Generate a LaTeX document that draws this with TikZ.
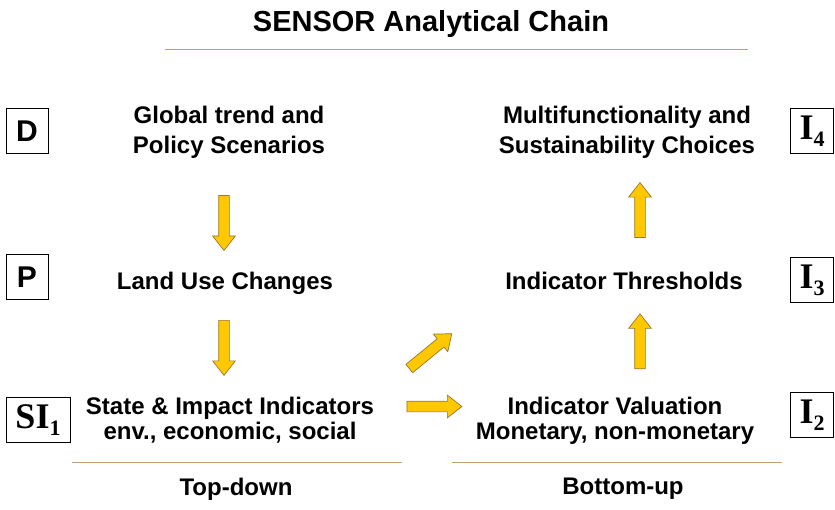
\documentclass[tikz,border=0pt]{standalone}
\usepackage{fontspec}
\setmainfont{Liberation Sans}
\newfontfamily\serifbox{Liberation Serif}
\usetikzlibrary{
    shapes.arrows,
    calc,
}
\definecolor{arrowfill}{RGB}{255,200,0}
\definecolor{arrowline}{RGB}{150,120,50}
\definecolor{rulecol}{RGB}{195,160,115}
\newcommand{\idx}[1]{\raisebox{-7pt}{\fontsize{22}{22}\selectfont #1}}

\begin{document}
\begin{tikzpicture}[x=1pt,y=1pt]

    \tikzstyle{commonText}=[align=center, inner sep=0pt, text=black]
    \tikzstyle{title}=[commonText, font=\bfseries\fontsize{29}{29}\selectfont]
    \tikzstyle{stage}=[commonText, font=\bfseries\fontsize{24}{30}\selectfont]
    \tikzstyle{stageLow}=[commonText, font=\bfseries\fontsize{24}{25}\selectfont]
    \tikzstyle{tag}=[draw=black, line width=0.8pt, minimum width=42pt, minimum height=45pt, inner sep=0pt, font=\bfseries\fontsize{30}{30}\selectfont]
    \tikzstyle{indexTag}=[tag, font=\serifbox\bfseries\fontsize{36}{36}\selectfont]
    \tikzstyle{barrow}=[single arrow, draw=arrowline, fill=arrowfill, line width=0.7pt, minimum height=55pt, inner xsep=0pt, inner ysep=5pt, single arrow head extend=6pt, single arrow tip angle=76, sloped, allow upside down]
    \tikzstyle{rule}=[draw=rulecol, line width=1pt]

    % Background
    \fill[white] (0,0) rectangle (835,-509);
    \useasboundingbox (0,0) rectangle (835,-509);

    % Title
    \node at (431,-24) [title] (T) {SENSOR Analytical Chain};
    \draw[rule] (165,-49) -- (748,-49);

    % Tags
    \node at (27,-131)  [tag]      (D)  {D};
    \node at (27,-277)  [tag]      (P)  {P};
    \node at (38,-420)  [indexTag, minimum width=64pt] (SI) {SI\idx{1}};
    \node at (812,-131) [indexTag, minimum width=43pt] (I4) {I\idx{4}};
    \node at (812,-280) [indexTag, minimum width=43pt] (I3) {I\idx{3}};
    \node at (812,-415) [indexTag, minimum width=43pt] (I2) {I\idx{2}};

    % Stages
    \node at (229,-132)   [stage]    (GTP) {Global trend and\\Policy Scenarios};
    \node at (225,-283)   [stage]    (LUC) {Land Use Changes};
    \node at (230,-420.5) [stageLow] (SII) {State \& Impact Indicators\\env., economic, social};
    \node at (627,-132)   [stage]    (MFS) {Multifunctionality and\\Sustainability Choices};
    \node at (624,-281)   [stage]    (ITH) {Indicator Thresholds};
    \node at (615,-420.5) [stageLow] (IVM) {Indicator Valuation\\Monetary, non-monetary};

    % Arrows
    \path ([xshift=-5pt]GTP.center) -- node[pos=.58, barrow] (A1) {} ([xshift=-1pt]LUC.center);
    \path ([xshift=-1pt]LUC.center) -- node[pos=.447, barrow] (A2) {} ([xshift=-6pt]SII.center);
    \path ([xshift=16pt]ITH.center) -- node[pos=.453, barrow] (A3) {} ([xshift=13pt]MFS.center);
    \path ([xshift=25pt]IVM.center) -- node[pos=.543, barrow] (A4) {} ([xshift=16pt]ITH.center);
    \path ([yshift=14pt]SII.center) -- node[pos=.522, barrow] (A5) {} ([yshift=14pt]IVM.center);
    \path (SII.north east) -- node[pos=.41, barrow] (A6) {} (ITH.south west);

    % Bottom
    \draw[rule] (72,-462) -- (402,-462);
    \draw[rule] (452,-462) -- (782,-462);
    \node at (236,-489) [stage] (TD) {Top-down};
    \node at (623,-489) [stage] (BU) {Bottom-up};

\end{tikzpicture}
\end{document}
